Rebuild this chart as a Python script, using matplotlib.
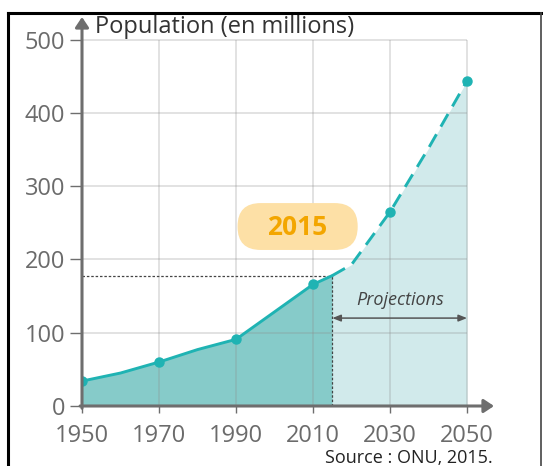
import matplotlib
matplotlib.use("Agg")
import matplotlib.pyplot as plt
from matplotlib.patches import FancyBboxPatch, FancyArrowPatch
from matplotlib.lines import Line2D

plt.rcParams["font.family"] = ["Open Sans", "DejaVu Sans"]

# population values (millions)
past_years = [1950, 1960, 1970, 1980, 1990, 2010, 2015]
past_pop = [34, 45, 60, 77, 91, 166, 178]
proj_years = [2015, 2020, 2030, 2040, 2050]
proj_pop = [178, 193, 265, 352, 444]
marker_years = [1950, 1970, 1990, 2010, 2030, 2050]
marker_pop = [34, 60, 91, 166, 265, 444]
ticks_x = [1950, 1970, 1990, 2010, 2030, 2050]
ticks_y = [0, 100, 200, 300, 400, 500]

teal = "#1fb3b3"
dark_fill = "#86cbc9"
light_fill = "#d1eaeb"
axis_grey = "#6e6e6e"

fig = plt.figure(figsize=(5.43, 4.66), dpi=100)
ax = fig.add_axes([82 / 543, 1 - 406 / 466, 412 / 543, 389 / 466])
ax.set_xlim(1950, 2057)
ax.set_ylim(0, 531)

# fills
ax.fill_between(past_years, past_pop, color=dark_fill, lw=0, zorder=1)
ax.fill_between(proj_years, proj_pop, color=light_fill, lw=0, zorder=1)

# grid limited to the data area
ax.vlines(ticks_x[1:], 0, 500, color="#8c8c8c", alpha=0.3, lw=1.2, zorder=1.5)
ax.hlines(ticks_y[1:], 1950, 2050, color="#8c8c8c", alpha=0.3, lw=1.2, zorder=1.5)

# curve
ax.plot(past_years, past_pop, color=teal, lw=2.1, zorder=3, solid_capstyle="round")
ax.plot(proj_years, proj_pop, color=teal, lw=2.1, zorder=3, dashes=(5, 3))
ax.plot(marker_years, marker_pop, "o", color=teal, ms=6.5, zorder=4)

# 2015 guide lines
ax.plot([1950, 2015], [178, 178], color="#444444", lw=0.9, ls=(0, (2, 1.5)), zorder=2)
ax.plot([2015, 2015], [0, 178], color="#444444", lw=0.9, ls=(0, (2, 1.5)), zorder=2)

# 2015 label
box = FancyBboxPatch((1990.4, 213), 31.2, 64,
                     boxstyle="round,pad=0,rounding_size=6",
                     mutation_aspect=5.26, fc="#fde0a6", ec="none", zorder=3)
ax.add_patch(box)
ax.text(2006, 244, "2015", color="#f3a600", fontsize=19, fontweight="bold",
        ha="center", va="center", zorder=4)

# projections arrow
ax.annotate("", xy=(2050, 120), xytext=(2015, 120),
            arrowprops=dict(arrowstyle="<|-|>,head_length=0.5,head_width=0.2",
                            color="#555555", lw=1.1, shrinkA=0, shrinkB=0), zorder=4)
ax.text(2032.5, 145, "Projections", style="italic", fontsize=13,
        color="#444444", ha="center", va="center", zorder=4)

# axes with arrows
for s in ax.spines.values():
    s.set_visible(False)
ax.add_patch(FancyArrowPatch((1950, -3), (1950, 531),
                             arrowstyle="-|>,head_length=6,head_width=4",
                             color=axis_grey, lw=2.2, shrinkA=0, shrinkB=0,
                             zorder=5, clip_on=False))
ax.add_patch(FancyArrowPatch((1949.5, 0), (2057, 0),
                             arrowstyle="-|>,head_length=6,head_width=4",
                             color=axis_grey, lw=2.2, shrinkA=0, shrinkB=0,
                             zorder=5, clip_on=False))

ax.set_xticks(ticks_x)
ax.set_yticks(ticks_y)
ax.tick_params(axis="y", length=9, width=1, color=axis_grey, pad=3,
               labelsize=17, labelcolor="#6b6b6b")
ax.tick_params(axis="x", length=5, width=1, color=axis_grey, pad=8,
               labelsize=17, labelcolor="#6b6b6b")

ax.text(1953.4, 518, "Population (en millions)", fontsize=17, color="#333333",
        ha="left", va="center", clip_on=False)
ax.text(2056.8, -71, "Source : ONU, 2015.", fontsize=13, color="#222222",
        ha="right", va="center", clip_on=False)

# frame around the document
fig.add_artist(Line2D([8 / 543, 8 / 543], [0, 1 - 13 / 466], color="black", lw=2.2))
fig.add_artist(Line2D([8 / 543, 541 / 543], [1 - 13 / 466, 1 - 13 / 466], color="black", lw=2.2))
fig.add_artist(Line2D([541 / 543, 541 / 543], [0, 1 - 13 / 466], color="#444444", lw=1.2))

fig.savefig("out.png", dpi=100)
